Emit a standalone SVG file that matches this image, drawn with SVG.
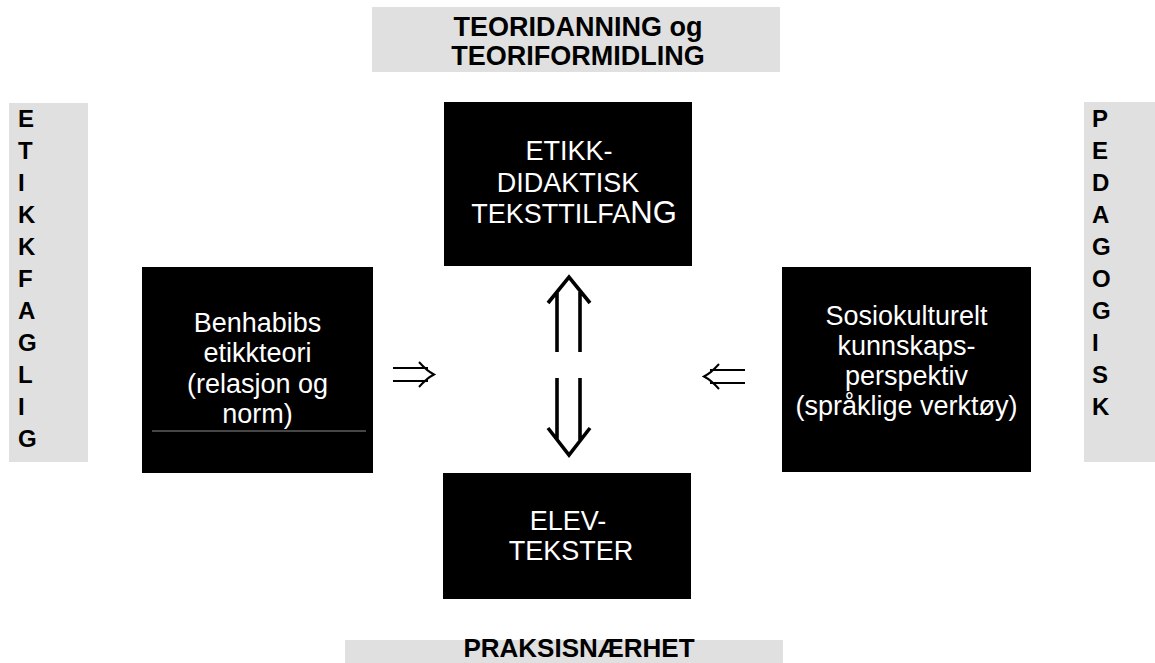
<svg xmlns="http://www.w3.org/2000/svg" width="1155" height="663" viewBox="0 0 1155 663">
<style>
.band{fill:#e0e0e0}
.lbl{font-family:"Liberation Sans",Arial,sans-serif;font-weight:bold;font-size:27px;fill:#000;text-anchor:middle}
.lbl2{font-family:"Liberation Sans",Arial,sans-serif;font-weight:bold;font-size:26px;fill:#000;text-anchor:middle}
.vl{font-family:"Liberation Sans",Arial,sans-serif;font-weight:bold;font-size:24px;fill:#000}
.box{fill:#000}
.bt{font-family:"Liberation Sans",Arial,sans-serif;font-size:27px;fill:#fff;text-anchor:middle}
.thick{fill:none;stroke:#000;stroke-width:3.6}
.thin{fill:none;stroke:#000;stroke-width:2}
</style>
<rect width="1155" height="663" fill="#fff"/>
<g id="band-top">
<rect class="band" x="372" y="7" width="408" height="65"/>
<text class="lbl" x="578" y="36">TEORIDANNING og</text>
<text class="lbl" x="578" y="65">TEORIFORMIDLING</text>
</g>
<g id="band-bottom">
<rect class="band" x="345" y="640" width="438" height="23"/>
<text class="lbl2" x="579" y="657">PRAKSISNÆRHET</text>
</g>
<g id="band-left">
<rect class="band" x="9" y="103" width="79" height="359"/>
<text class="vl" x="18" y="127">E</text>
<text class="vl" x="18" y="159">T</text>
<text class="vl" x="18" y="191">I</text>
<text class="vl" x="18" y="223">K</text>
<text class="vl" x="18" y="255">K</text>
<text class="vl" x="18" y="287">F</text>
<text class="vl" x="18" y="319">A</text>
<text class="vl" x="18" y="351">G</text>
<text class="vl" x="18" y="383">L</text>
<text class="vl" x="18" y="415">I</text>
<text class="vl" x="18" y="447">G</text>
</g>
<g id="band-right">
<rect class="band" x="1084" y="102" width="71" height="360"/>
<text class="vl" x="1092" y="127">P</text>
<text class="vl" x="1092" y="159">E</text>
<text class="vl" x="1092" y="191">D</text>
<text class="vl" x="1092" y="223">A</text>
<text class="vl" x="1092" y="255">G</text>
<text class="vl" x="1092" y="287">O</text>
<text class="vl" x="1092" y="319">G</text>
<text class="vl" x="1092" y="351">I</text>
<text class="vl" x="1092" y="383">S</text>
<text class="vl" x="1092" y="415">K</text>
</g>
<g id="node-top">
<rect class="box" x="444" y="102" width="248" height="164"/>
<text class="bt" x="569" y="160">ETIKK-</text>
<text class="bt" x="568" y="192">DIDAKTISK</text>
<text class="bt" x="574" y="223">TEKSTTILFA<tspan font-size="31">NG</tspan></text>
</g>
<g id="node-left">
<rect class="box" x="142" y="267" width="231" height="206"/>
<text class="bt" x="257.5" y="332">Benhabibs</text>
<text class="bt" x="257.5" y="362">etikkteori</text>
<text class="bt" x="257.5" y="393">(relasjon og</text>
<text class="bt" x="257.5" y="423">norm)</text>
<line x1="152" y1="431" x2="366" y2="431" stroke="#8c8c8c" stroke-width="1"/>
</g>
<g id="node-right">
<rect class="box" x="782" y="267" width="249" height="205"/>
<text class="bt" x="906.5" y="325">Sosiokulturelt</text>
<text class="bt" x="906.5" y="355">kunnskaps-</text>
<text class="bt" x="906.5" y="385">perspektiv</text>
<text class="bt" x="906.5" y="415">(språklige verktøy)</text>
</g>
<g id="node-bottom">
<rect class="box" x="443" y="473" width="248" height="126"/>
<text class="bt" x="568" y="530">ELEV-</text>
<text class="bt" x="571" y="560">TEKSTER</text>
</g>
<g id="connectors">
<path class="thick" d="M557,352V292M580,352V292M548,303L569,277L590,303"/>
<path class="thick" d="M557,378V440M580,378V440M548,428L569,455L590,428"/>
<path class="thin" d="M393,368H428M393,381H428M419,362Q427,371 434,374.5Q427,378 419,387"/>
<path class="thin" d="M745,370H710M745,383H710M719,364Q711,373 704,376.5Q711,380 719,389"/>
</g>
</svg>
